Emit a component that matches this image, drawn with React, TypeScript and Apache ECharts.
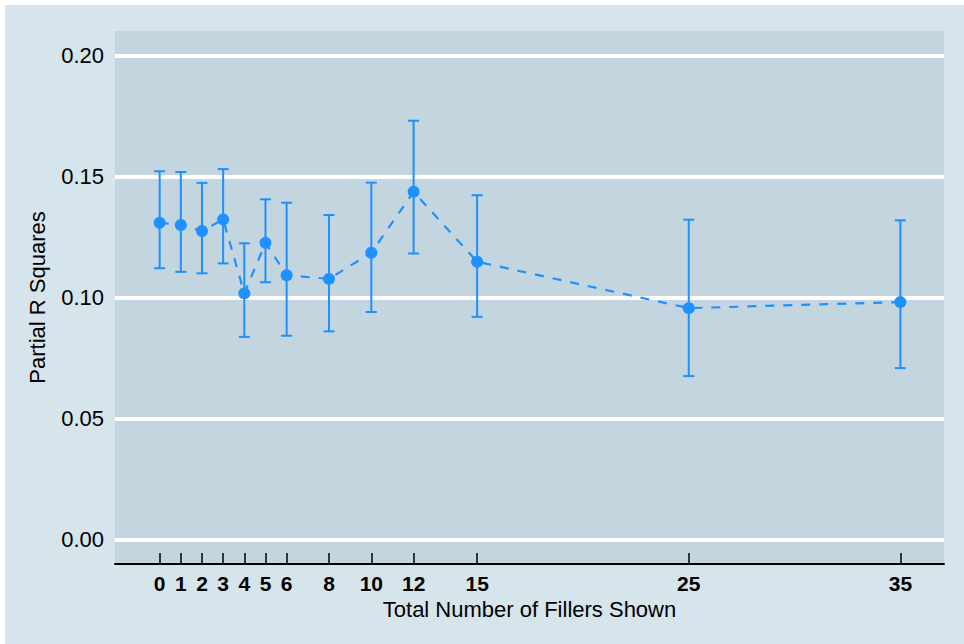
import React, { useEffect, useRef } from "react";
import * as echarts from "echarts";

// Number of fillers shown (x positions)
const fillers = [0, 1, 2, 3, 4, 5, 6, 8, 10, 12, 15, 25, 35];
// Partial R squares (point estimates)
const estimates = [0.1309, 0.13, 0.1275, 0.1323, 0.1017, 0.1226, 0.1092, 0.1077, 0.1185, 0.1437, 0.1148, 0.0956, 0.0981];
// Confidence interval bounds
const lowerBounds = [0.1121, 0.1106, 0.11, 0.1141, 0.0837, 0.1063, 0.0842, 0.086, 0.094, 0.1182, 0.092, 0.0675, 0.0708];
const upperBounds = [0.1522, 0.1519, 0.1474, 0.1531, 0.1224, 0.1406, 0.1392, 0.1341, 0.1475, 0.1731, 0.1423, 0.1322, 0.1319];
// Tick labels
const xTickValues = [0, 1, 2, 3, 4, 5, 6, 8, 10, 12, 15, 25, 35];
const yTickValues = [0, 0.05, 0.1, 0.15, 0.2];

const BLUE = "#1E90FF";
const FONT = "'Liberation Sans', Arial, Helvetica, sans-serif";

export default function App() {
  const ref = useRef<HTMLDivElement>(null);

  useEffect(() => {
    if (!ref.current) return;
    const chart = echarts.init(ref.current, undefined, { renderer: "svg" });

    const pointData = fillers.map((x, i) => [x, estimates[i]]);
    const barData = fillers.map((x, i) => [x, lowerBounds[i], upperBounds[i]]);

    chart.setOption({
      animation: false,
      backgroundColor: "#d6e4eb",
      textStyle: { fontFamily: FONT },
      grid: {
        left: 110,
        right: 20,
        top: 26,
        bottom: 80,
        show: true,
        backgroundColor: "#c3d5df",
        borderWidth: 0,
      },
      xAxis: {
        type: "value",
        min: -2.11,
        max: 37.06,
        name: "Total Number of Fillers Shown",
        nameLocation: "middle",
        nameGap: 32,
        nameTextStyle: { fontSize: 22, color: "#000", fontFamily: FONT },
        axisLine: { show: true, onZero: false, lineStyle: { color: "#000", width: 2 } },
        axisTick: {
          show: true,
          inside: true,
          length: 11,
          customValues: xTickValues,
          lineStyle: { color: "#000", width: 1.5 },
        },
        axisLabel: {
          show: true,
          customValues: xTickValues,
          fontSize: 21,
          fontWeight: "bold",
          color: "#000",
          margin: 9,
          fontFamily: FONT,
        },
        splitLine: { show: false },
      },
      yAxis: {
        type: "value",
        min: -0.0102,
        max: 0.2102,
        name: "Partial R Squares",
        nameLocation: "middle",
        nameGap: 67,
        nameTextStyle: { fontSize: 22, color: "#000", fontFamily: FONT },
        axisLine: { show: false },
        axisTick: { show: false, customValues: yTickValues },
        axisLabel: {
          customValues: yTickValues,
          fontSize: 22,
          color: "#000",
          margin: 11,
          fontFamily: FONT,
          formatter: (v: number) => v.toFixed(2),
        },
        splitLine: { show: true, lineStyle: { color: "#ffffff", width: 4 } },
      },
      series: [
        {
          type: "custom",
          z: 2,
          data: barData,
          encode: { x: 0, y: [1, 2] },
          renderItem: (params: any, api: any) => {
            const x = api.value(0);
            const lo = api.coord([x, api.value(1)]);
            const hi = api.coord([x, api.value(2)]);
            const half = 5.5;
            const style = { stroke: BLUE, lineWidth: 2, fill: "none" };
            return {
              type: "group",
              children: [
                { type: "line", shape: { x1: hi[0], y1: hi[1], x2: lo[0], y2: lo[1] }, style },
                { type: "line", shape: { x1: hi[0] - half, y1: hi[1], x2: hi[0] + half, y2: hi[1] }, style },
                { type: "line", shape: { x1: lo[0] - half, y1: lo[1], x2: lo[0] + half, y2: lo[1] }, style },
              ],
            };
          },
        },
        {
          type: "line",
          z: 3,
          data: pointData,
          symbol: "circle",
          symbolSize: 12,
          showAllSymbol: true,
          itemStyle: { color: BLUE },
          lineStyle: { color: BLUE, width: 2.2, type: [9, 9] },
        },
      ],
    });

    return () => chart.dispose();
  }, []);

  return (
    <div style={{ position: "fixed", left: 0, top: 0, width: 964, height: 644, background: "#ffffff" }}>
      <div ref={ref} style={{ position: "absolute", left: 5, top: 5, width: 959, height: 639 }} />
    </div>
  );
}
